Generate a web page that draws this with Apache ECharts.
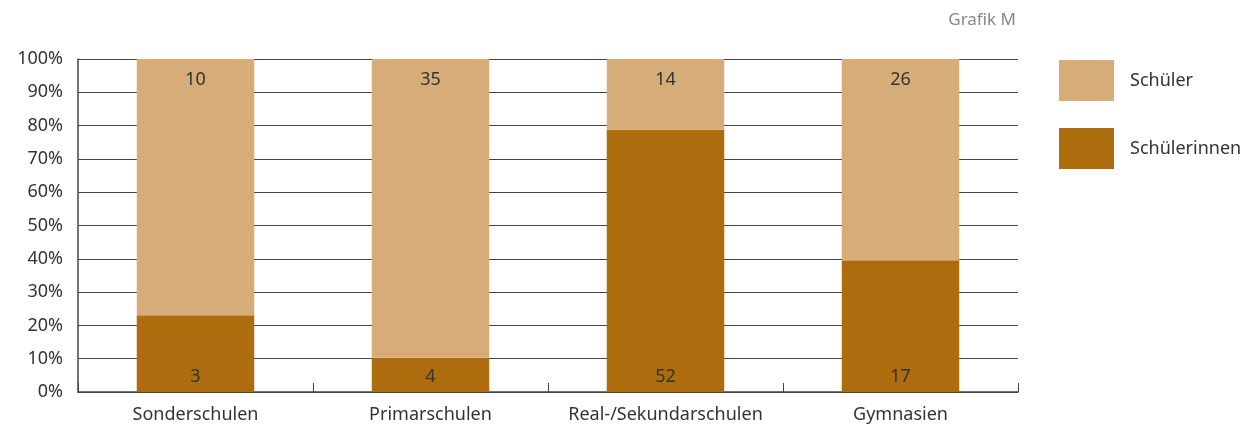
<!DOCTYPE html>
<html>
<head>
<meta charset="utf-8">
<script src="https://cdn.jsdelivr.net/npm/echarts@6/dist/echarts.min.js"></script>
<style>
  html, body { margin: 0; padding: 0; background: #fff; }
  #chart { width: 1251px; height: 426px; }
</style>
</head>
<body>
<div id="chart"></div>
<script>
// Schulstufen und Anzahl
const categories = ['Sonderschulen', 'Primarschulen', 'Real-/Sekundarschulen', 'Gymnasien'];
const schuelerinnen = [3, 4, 52, 17];
const schueler = [10, 35, 14, 26];
const yTicks = [0, 10, 20, 30, 40, 50, 60, 70, 80, 90, 100];

const FONT = '"Noto Sans", "Liberation Sans", sans-serif';

// Anteil in Prozent je Kategorie
const share = (arr, i) => arr[i] / (schuelerinnen[i] + schueler[i]) * 100;
const pctInnen = categories.map((c, i) => share(schuelerinnen, i));
const pctSchueler = categories.map((c, i) => share(schueler, i));

const chart = echarts.init(document.getElementById('chart'));

chart.setOption({
  animation: false,
  textStyle: { fontFamily: FONT },
  title: {
    text: 'Grafik M',
    right: 230,
    top: 7,
    textStyle: { fontFamily: FONT, fontSize: 17, fontWeight: 'normal', color: '#888' }
  },
  legend: {
    orient: 'vertical',
    left: 1054,
    top: 55,
    itemWidth: 55,
    itemHeight: 41,
    itemGap: 27,
    icon: 'rect',
    textStyle: { fontFamily: FONT, fontSize: 18, color: '#333', padding: [3, 0, 0, 11] },
    data: ['Schüler', 'Schülerinnen']
  },
  grid: { left: 78, right: 233, top: 59, bottom: 34 },
  xAxis: {
    type: 'category',
    data: categories,
    axisLine: { lineStyle: { color: '#444', width: 1.5 } },
    axisTick: { show: true, alignWithLabel: false, inside: true, length: 9, lineStyle: { color: '#444', width: 1 } },
    axisLabel: { interval: 0, fontFamily: FONT, fontSize: 18, color: '#333', margin: 14 }
  },
  yAxis: {
    type: 'value',
    min: yTicks[0],
    max: yTicks[yTicks.length - 1],
    interval: 10,
    axisLine: { show: true, lineStyle: { color: '#444', width: 1.5 } },
    axisTick: { show: false },
    axisLabel: { fontFamily: FONT, fontSize: 18, color: '#333', margin: 15, formatter: '{value}%' },
    splitLine: { lineStyle: { color: '#444', width: 1 } }
  },
  series: [
    {
      name: 'Schülerinnen',
      type: 'bar',
      stack: 'total',
      barWidth: '50%',
      data: pctInnen,
      itemStyle: { color: '#ad6d0f' },
      label: {
        show: true,
        position: 'insideBottom',
        distance: 6,
        fontFamily: FONT,
        fontSize: 18,
        color: '#333',
        formatter: p => schuelerinnen[p.dataIndex]
      }
    },
    {
      name: 'Schüler',
      type: 'bar',
      stack: 'total',
      barWidth: '50%',
      data: pctSchueler,
      itemStyle: { color: '#d6ad78' },
      label: {
        show: true,
        position: 'insideTop',
        distance: 12,
        fontFamily: FONT,
        fontSize: 18,
        color: '#333',
        formatter: p => schueler[p.dataIndex]
      }
    }
  ]
});
</script>
</body>
</html>
